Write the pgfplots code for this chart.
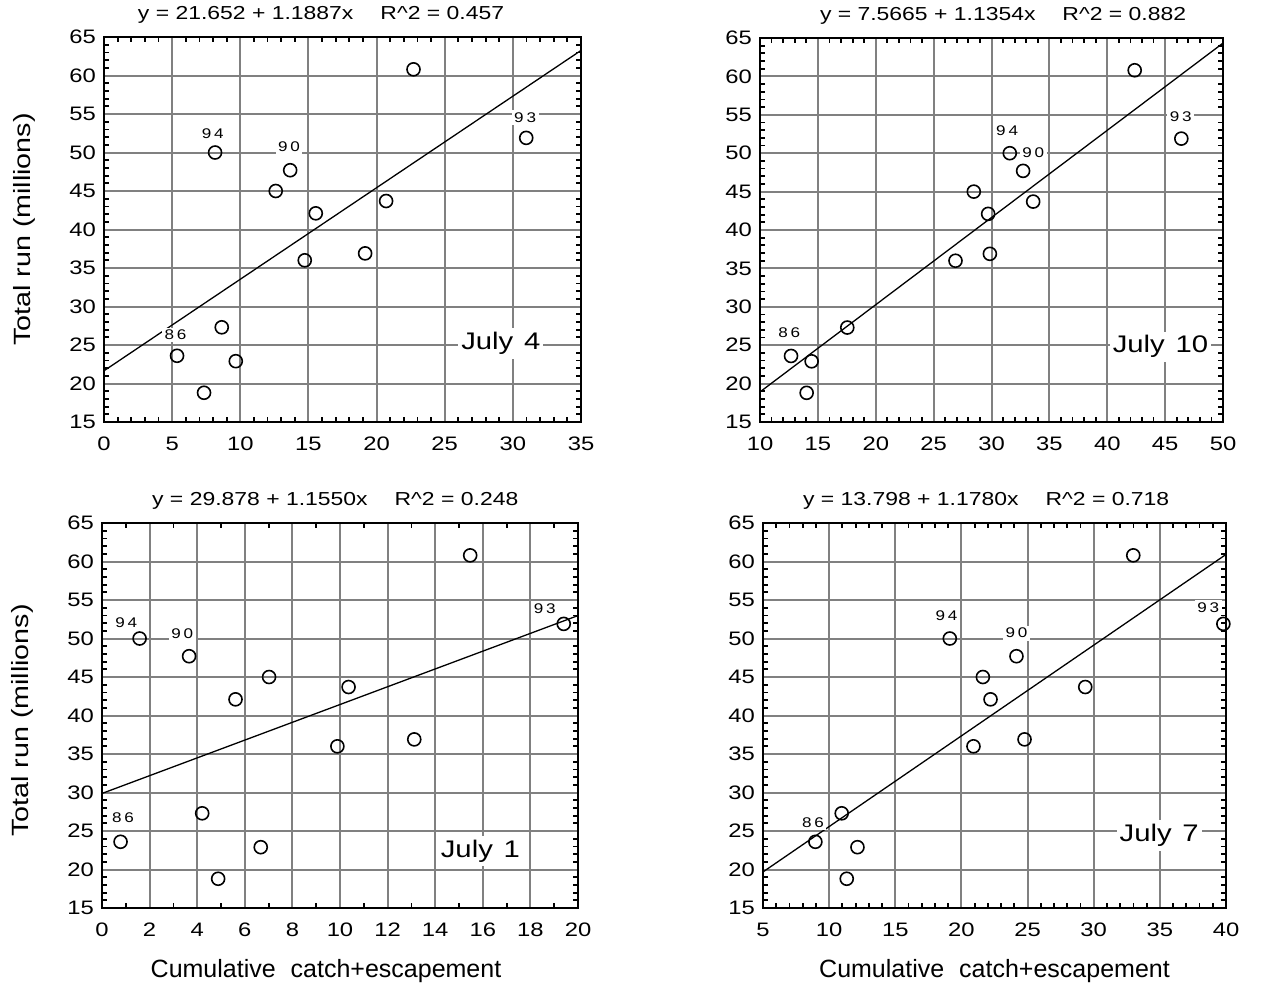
\documentclass[border=0pt]{standalone}
\usepackage{fontspec}
\setmainfont{Liberation Sans}[FakeStretch=1.22]
\newfontfamily\plainf{Liberation Sans}
\newfontfamily\yearf{Liberation Sans}[FakeStretch=1.22,LetterSpace=20]
\usepackage{pgfplots}
\pgfplotsset{compat=1.18}
\definecolor{gridgray}{RGB}{128,128,128}
\tikzset{
  yr/.style={fill=white, inner sep=2.5pt, font=\fontsize{14}{15}\yearf},
  jl/.style={fill=white, inner xsep=3pt, inner ysep=4pt, font=\fontsize{24}{26}\selectfont},
}
\pgfplotsset{
  panel/.style={
    scale only axis,
    anchor=south west,
    ymin=15, ymax=65, ytick distance=5, minor y tick num=4,
    minor x tick num=4,
    tick align=inside,
    axis line style={line width=2.6pt, line cap=rect},
    grid=major,
    major grid style={gridgray, line width=2pt},
    major tick length=0pt,
    minor tick length=5pt,
    every minor tick/.style={line width=1.8pt, black},
    ticklabel style={font=\fontsize{19.5}{20}\selectfont, inner sep=0pt},
    /pgf/number format/assume math mode=true,
    yticklabel style={anchor=east, xshift=-8pt},
    xticklabel style={anchor=north, yshift=-15pt},
    clip=false,
    title style={font=\fontsize{18.8}{20}\selectfont, anchor=base, yshift=12pt, inner sep=0pt},
    ylabel style={at={(axis description cs:0,0.5)}, anchor=center, rotate=0, yshift=80pt, font=\fontsize{23.5}{26}\selectfont},
    xlabel style={at={(axis description cs:0.5,0)}, anchor=base, yshift=-69pt, font=\fontsize{25}{26}\plainf},
  },
  pts/.style={only marks, mark=o, mark size=6.5pt, mark options={line width=1.6pt, black}},
  reg/.style={black, line width=1.3pt},
}
\begin{document}
\begin{tikzpicture}
\useasboundingbox (0,0) rectangle (1266pt,-986pt);
% ---------- Panel 1: July 4
\begin{axis}[panel, at={(104pt,-422pt)}, width=477pt, height=385pt,
  xmin=0, xmax=35, xtick distance=5,
  title={y = 21.652 + 1.1887x\hspace{27pt}R\textasciicircum 2 = 0.457},
  title style={at={(0.455,1)}},
  ylabel={Total run (millions)}]
\addplot[reg] coordinates {(0,21.652) (35,63.256)};
\node[yr] at (axis cs:7.98,52.5) {94};
\node[yr] at (axis cs:13.58,50.8) {90};
\node[yr] at (axis cs:30.9,54.5) {93};
\node[yr] at (axis cs:5.24,26.3) {86};
\node[jl] at (axis cs:29.12,25.2) {July\hspace{0.45em}4};
\addplot[pts] coordinates {
(22.71,60.8) (30.98,51.9) (8.15,50.0) (13.66,47.7) (12.6,45.0) (15.54,42.1)
(20.7,43.7) (14.73,36.0) (19.16,36.9) (8.64,27.3) (5.36,23.6) (9.67,22.9) (7.34,18.8)};
\end{axis}
% ---------- Panel 2: July 10
\begin{axis}[panel, at={(760pt,-422pt)}, width=463pt, height=384pt,
  xmin=10, xmax=50, xtick distance=5,
  title={y = 7.5665 + 1.1354x\hspace{27pt}R\textasciicircum 2 = 0.882},
  title style={at={(0.525,1)}}]
\addplot[reg] coordinates {(10,18.9205) (50,64.3365)};
\node[yr] at (axis cs:31.35,52.96) {94};
\node[yr] at (axis cs:33.6,50.1) {90};
\node[yr] at (axis cs:46.35,54.7) {93};
\node[yr] at (axis cs:12.53,26.6) {86};
\node[jl] at (axis cs:44.6,24.8) {July\hspace{0.45em}10};
\addplot[pts] coordinates {
(42.37,60.8) (46.4,51.9) (31.58,50.0) (32.73,47.7) (28.47,45.0) (29.71,42.1)
(33.6,43.7) (26.89,36.0) (29.86,36.9) (17.54,27.3) (12.68,23.6) (14.46,22.9) (14.03,18.8)};
\end{axis}
% ---------- Panel 3: July 1
\begin{axis}[panel, at={(102pt,-908pt)}, width=476pt, height=385pt,
  xmin=0, xmax=20, xtick distance=2, minor x tick num=1,
  title={y = 29.878 + 1.1550x\hspace{27pt}R\textasciicircum 2 = 0.248},
  title style={at={(0.49,1)}},
  ylabel={Total run (millions)},
  ylabel style={xshift=-5pt},
  xlabel={Cumulative\hspace{0.6em}catch+escapement},
  xlabel style={xshift=-14pt}]
\addplot[reg] coordinates {(0,29.878) (20,52.978)};
\node[yr] at (axis cs:1.02,52.0) {94};
\node[yr] at (axis cs:3.37,50.57) {90};
\node[yr] at (axis cs:18.6,53.82) {93};
\node[yr] at (axis cs:0.88,26.74) {86};
\node[jl] at (axis cs:15.9,22.4) {July\hspace{0.45em}1};
\addplot[pts] coordinates {
(15.47,60.8) (19.4,51.9) (1.58,50.0) (3.66,47.7) (7.02,45.0) (5.61,42.1)
(10.36,43.7) (9.89,36.0) (13.12,36.9) (4.21,27.3) (0.78,23.6) (6.67,22.9) (4.88,18.8)};
\end{axis}
% ---------- Panel 4: July 7
\begin{axis}[panel, at={(763pt,-908pt)}, width=463pt, height=385pt,
  xmin=5, xmax=40, xtick distance=5,
  title={y = 13.798 + 1.1780x\hspace{27pt}R\textasciicircum 2 = 0.718},
  title style={at={(0.482,1)}},
  xlabel={Cumulative\hspace{0.6em}catch+escapement}]
\addplot[reg] coordinates {(5,19.688) (40,60.918)};
\node[yr] at (axis cs:18.87,52.95) {94};
\node[yr] at (axis cs:24.16,50.7) {90};
\node[yr] at (axis cs:38.66,54.04) {93};
\node[yr] at (axis cs:8.78,26.1) {86};
\node[jl] at (axis cs:34.95,24.4) {July\hspace{0.45em}7};
\addplot[pts] coordinates {
(32.99,60.8) (39.8,51.9) (19.12,50.0) (24.16,47.7) (21.62,45.0) (22.2,42.1)
(29.36,43.7) (20.91,36.0) (24.77,36.9) (10.95,27.3) (8.96,23.6) (12.14,22.9) (11.33,18.8)};
\end{axis}
\end{tikzpicture}
\end{document}
